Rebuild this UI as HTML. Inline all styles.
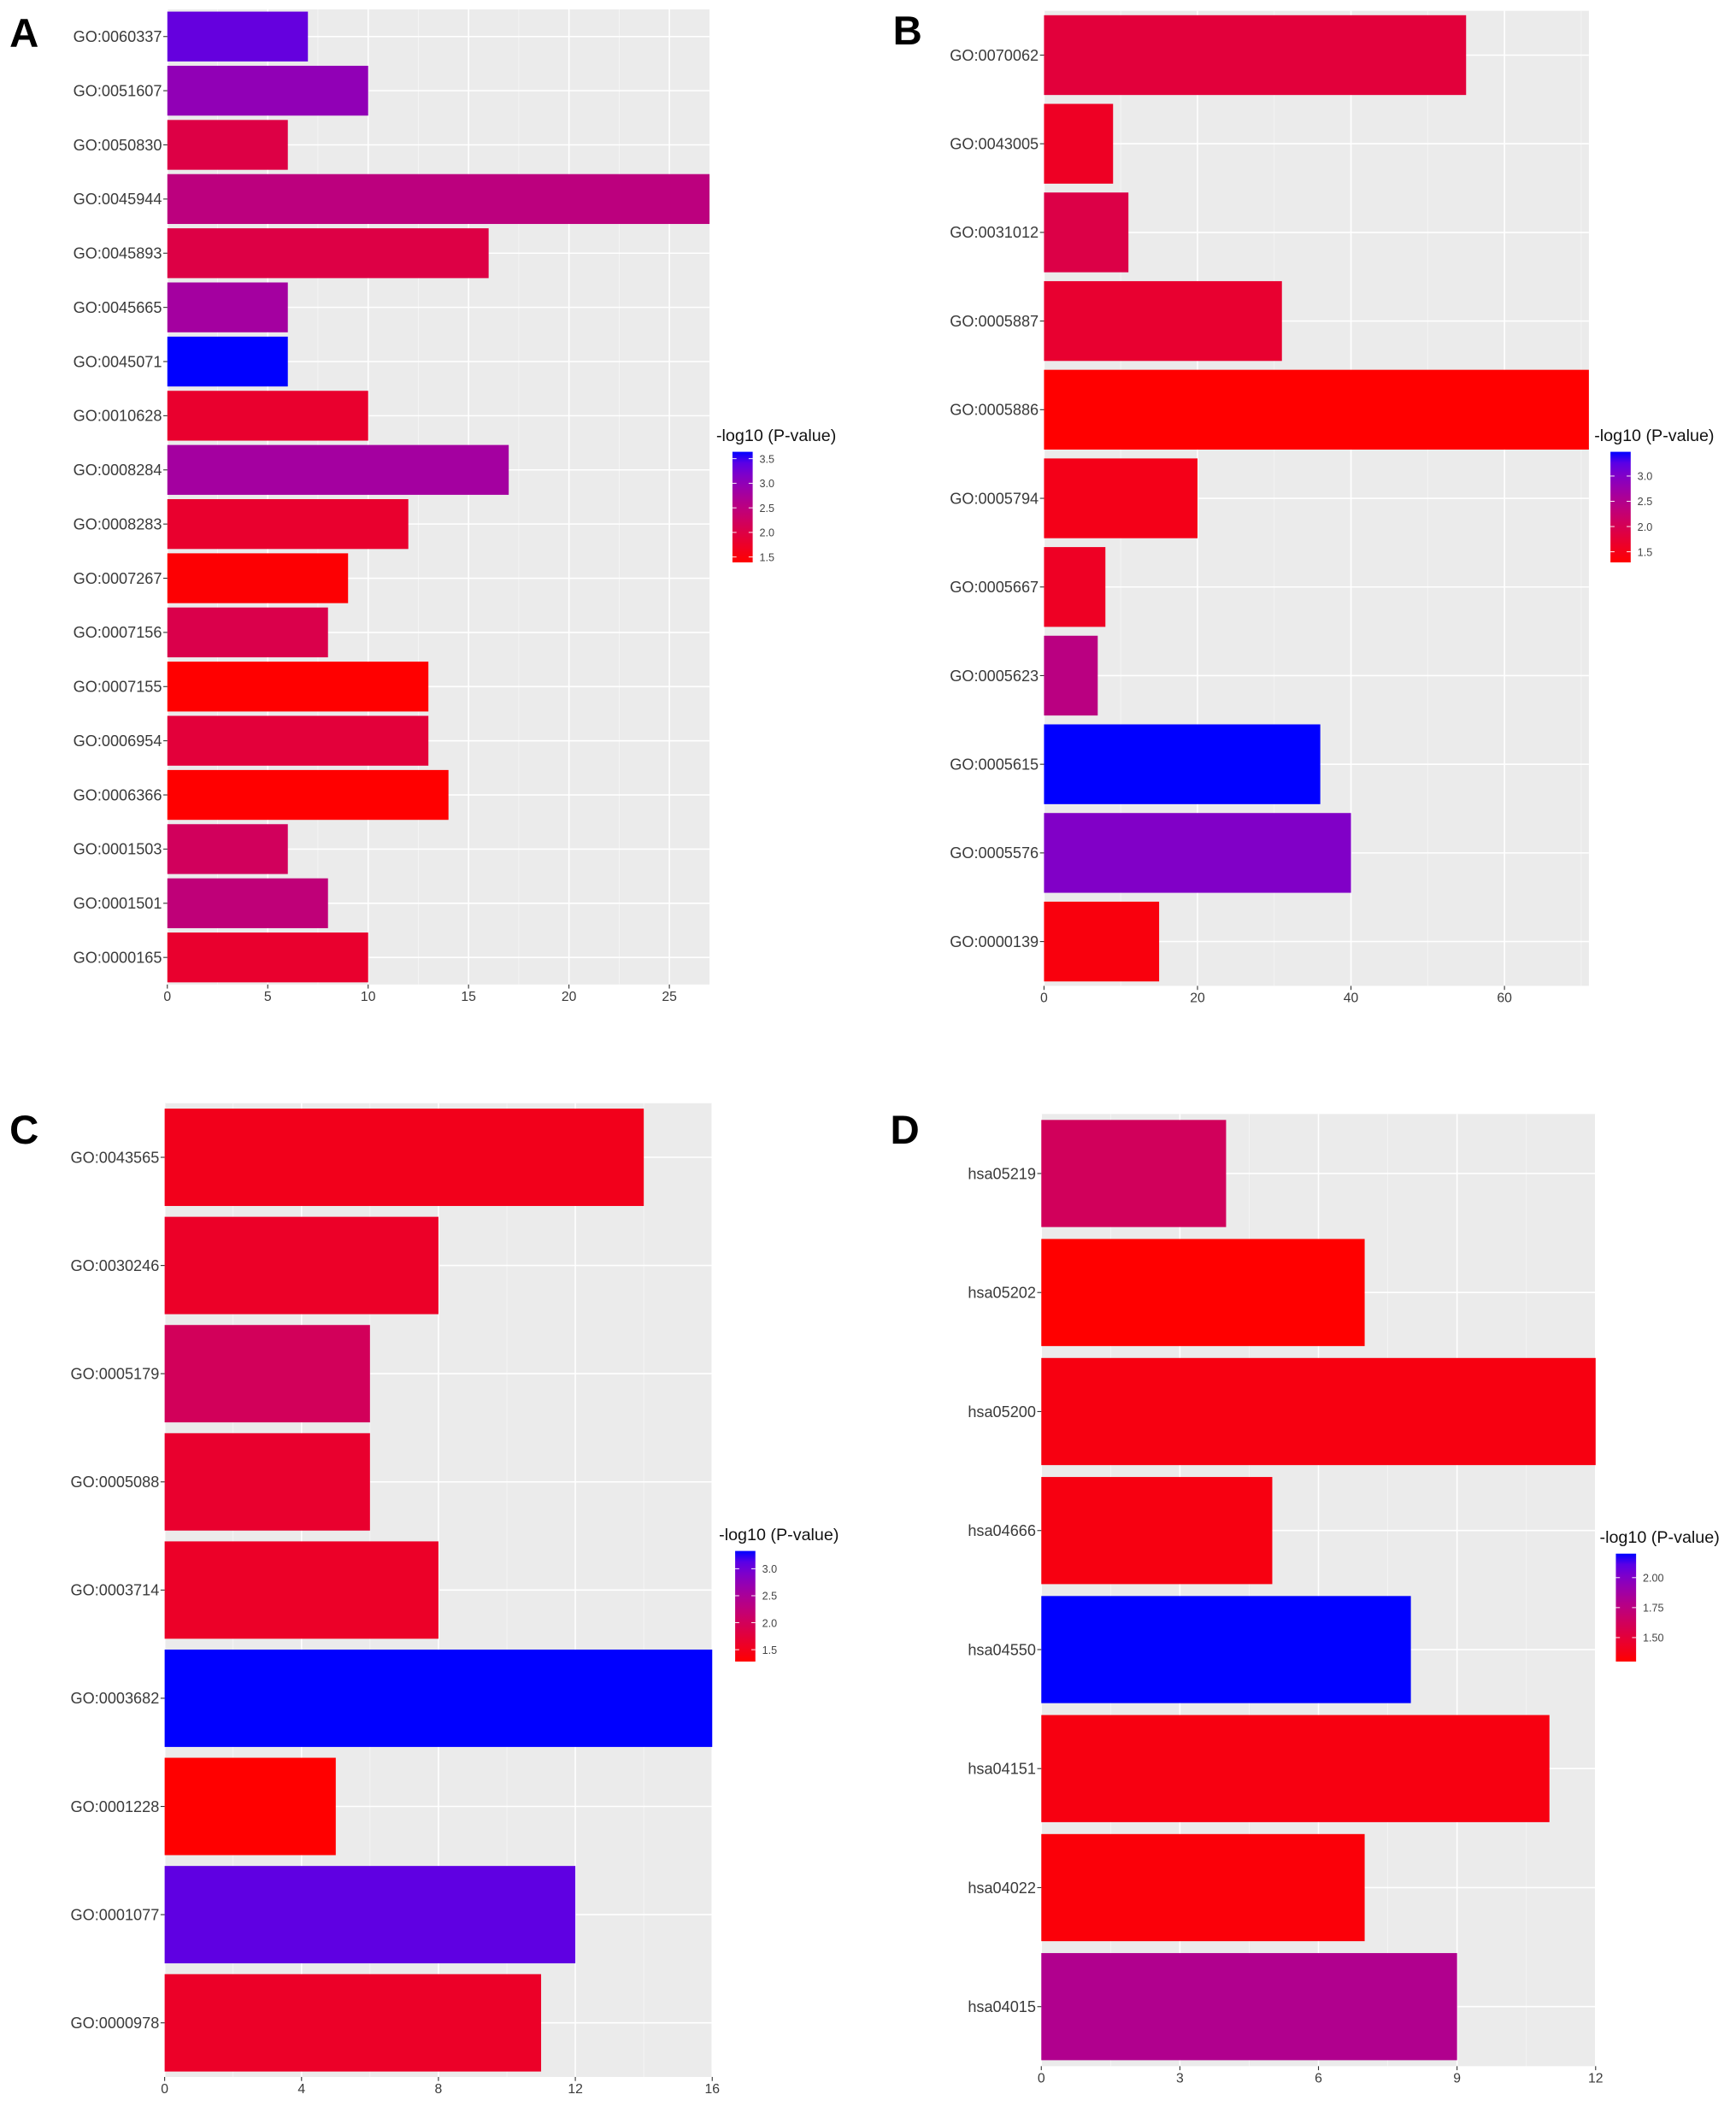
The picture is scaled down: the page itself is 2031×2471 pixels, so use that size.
<!DOCTYPE html>
<html><head><meta charset="utf-8"><style>
html,body{margin:0;padding:0;background:#fff;}
svg{display:block;}
text{font-family:"Liberation Sans",sans-serif;}
</style></head><body>
<svg id="fig" width="2031" height="2471" viewBox="0 0 1287 1566" xmlns="http://www.w3.org/2000/svg"></svg>
<script>
// Panel A data
const aCats=["GO:0060337","GO:0051607","GO:0050830","GO:0045944","GO:0045893","GO:0045665","GO:0045071","GO:0010628","GO:0008284","GO:0008283","GO:0007267","GO:0007156","GO:0007155","GO:0006954","GO:0006366","GO:0001503","GO:0001501","GO:0000165"];
const aVals=[7,10,6,27,16,6,6,10,17,12,9,8,13,13,14,6,8,10];
const aP=[3.35,3.0,2.0,2.5,2.0,2.8,3.64,1.8,2.8,1.8,1.42,2.05,1.39,1.9,1.39,2.2,2.45,1.8];
const aTicks=[0,5,10,15,20,25];
const aLegTicks=[1.5,2.0,2.5,3.0,3.5];
const aLegTickLabels=["1.5","2.0","2.5","3.0","3.5"];
// Panel B data
const bCats=["GO:0070062","GO:0043005","GO:0031012","GO:0005887","GO:0005886","GO:0005794","GO:0005667","GO:0005623","GO:0005615","GO:0005576","GO:0000139"];
const bVals=[55,9,11,31,71,20,8,7,36,40,15];
const bP=[1.8,1.6,1.9,1.7,1.29,1.5,1.6,2.4,3.48,3.0,1.4];
const bTicks=[0,20,40,60];
const bLegTicks=[1.5,2.0,2.5,3.0];
const bLegTickLabels=["1.5","2.0","2.5","3.0"];
// Panel C data
const cCats=["GO:0043565","GO:0030246","GO:0005179","GO:0005088","GO:0003714","GO:0003682","GO:0001228","GO:0001077","GO:0000978"];
const cVals=[14,8,6,6,8,16,5,12,11];
const cP=[1.5,1.6,2.0,1.65,1.6,3.33,1.28,3.1,1.6];
const cTicks=[0,4,8,12,16];
const cLegTicks=[1.5,2.0,2.5,3.0];
const cLegTickLabels=["1.5","2.0","2.5","3.0"];
// Panel D data
const dCats=["hsa05219","hsa05202","hsa05200","hsa04666","hsa04550","hsa04151","hsa04022","hsa04015"];
const dVals=[4,7,12,5,8,11,7,9];
const dP=[1.62,1.3,1.36,1.36,2.2,1.36,1.33,1.8];
const dTicks=[0,3,6,9,12];
const dLegTicks=[1.5,1.75,2.0];
const dLegTickLabels=["1.50","1.75","2.00"];

const NS="http://www.w3.org/2000/svg";
const svg=document.getElementById('fig');
function mk(tag,attrs,parent){const e=document.createElementNS(NS,tag);for(const k in attrs)e.setAttribute(k,attrs[k]);(parent||svg).appendChild(e);return e;}
function col(t){t=Math.max(0,Math.min(1,t));const r=Math.round(255*Math.pow(1-t,0.45));const b=Math.round(255*Math.pow(t,1.0));return `rgb(${r},0,${b})`;}

function panel(o){
  const g=mk('g',{});
  
  
  const L=o.left,R=o.right,T=o.top,B=o.bottom;
  const xs=v=>L+(v-0)/o.xmax*(R-L);
  const bg=mk('rect',{x:L,y:T,width:R-L,height:B-T,fill:'#ebebeb'},g);
  
  
  for(let i=0;i<o.ticks.length;i++){
    const step=o.ticks[1]-o.ticks[0];const mv=o.ticks[i]+step/2;
    if(mv<o.xmax) mk('line',{x1:xs(mv),x2:xs(mv),y1:T,y2:B,stroke:'#f6f6f6','stroke-width':0.5},g);
  }
  o.ticks.forEach(v=>{
    const gl=mk('line',{x1:xs(v),x2:xs(v),y1:T,y2:B,stroke:'#ffffff','stroke-width':1},g);
    
    
  });
  const n=o.cats.length;const step=(B-T)/n;const bh=step*o.bw;
  o.cats.forEach((c,i)=>{
    const cy=T+step*(i+0.5);
    mk('line',{x1:L,x2:R,y1:cy,y2:cy,stroke:'#ffffff','stroke-width':1},g);
  });
  o.cats.forEach((c,i)=>{
    const cy=T+step*(i+0.5);
    const t=(o.p[i]-o.pmin)/(o.pmax-o.pmin);
    const r=mk('rect',{x:L,y:cy-bh/2,width:xs(o.vals[i])-L,height:bh,fill:col(t)},g);
    
    
    mk('line',{x1:L-3,x2:L,y1:cy,y2:cy,stroke:'#333','stroke-width':0.7},g);
    const tx=mk('text',{x:L-4,y:cy+4,'font-size':o.yfs,'text-anchor':'end',fill:'#3a3a3a'},g);
    tx.textContent=c;
    
    
  });
  o.ticks.forEach(v=>{
    mk('line',{x1:xs(v),x2:xs(v),y1:B,y2:B+3,stroke:'#333','stroke-width':0.7},g);
    const tx=mk('text',{x:xs(v),y:B+12,'font-size':10,'text-anchor':'middle',fill:'#3a3a3a'},g);
    tx.textContent=v;
    
    
  });
  const lt=mk('text',{x:o.lx,y:o.ly,'font-size':30,'font-weight':'bold',fill:'#000'},g);
  lt.textContent=o.letter;
  
  
  const lg=o.leg;
  const tt=mk('text',{x:lg.x-12,y:lg.ty,'font-size':12.5,fill:'#111'},g);
  tt.textContent='-log10 (P-value)';
  
  
  const gid='grad'+o.letter;
  const defs=mk('defs',{},g);
  const lgr=mk('linearGradient',{id:gid,x1:0,y1:1,x2:0,y2:0},defs);
  for(let k=0;k<=10;k++) mk('stop',{offset:k/10,'stop-color':col(k/10)},lgr);
  const cb=mk('rect',{x:lg.x,y:lg.top,width:15,height:lg.bot-lg.top,fill:`url(#${gid})`},g);
  
  
  const ys=p=>lg.bot-(p-o.pmin)/(o.pmax-o.pmin)*(lg.bot-lg.top);
  o.legTicks.forEach((p,k)=>{
    const y=ys(p);
    mk('line',{x1:lg.x,x2:lg.x+3,y1:y,y2:y,stroke:'#fff','stroke-width':0.6},g);
    mk('line',{x1:lg.x+12,x2:lg.x+15,y1:y,y2:y,stroke:'#fff','stroke-width':0.6},g);
    const tx=mk('text',{x:lg.x+20,y:y+3,'font-size':8,fill:'#444'},g);
    tx.textContent=o.legLabels[k];
    
    
  });
}

panel({name:'panel-a',letter:'A',lx:7,ly:35,left:124,right:526,top:7,bottom:730,xmax:27,ticks:aTicks,cats:aCats,vals:aVals,p:aP,pmin:1.39,pmax:3.64,bw:0.92,yfs:11.5,legTicks:aLegTicks,legLabels:aLegTickLabels,leg:{x:543,ty:327,top:335,bot:417}});
panel({name:'panel-b',letter:'B',lx:662,ly:33,left:774,right:1178,top:8,bottom:731,xmax:71,ticks:bTicks,cats:bCats,vals:bVals,p:bP,pmin:1.29,pmax:3.48,bw:0.9,yfs:11.5,legTicks:bLegTicks,legLabels:bLegTickLabels,leg:{x:1194,ty:327,top:335,bot:417}});
panel({name:'panel-c',letter:'C',lx:7,ly:848,left:122,right:528,top:818,bottom:1540,xmax:16,ticks:cTicks,cats:cCats,vals:cVals,p:cP,pmin:1.28,pmax:3.33,bw:0.9,yfs:11.5,legTicks:cLegTicks,legLabels:cLegTickLabels,leg:{x:545,ty:1142,top:1150,bot:1232}});
panel({name:'panel-d',letter:'D',lx:660,ly:848,left:772,right:1183,top:826,bottom:1532,xmax:12,ticks:dTicks,cats:dCats,vals:dVals,p:dP,pmin:1.3,pmax:2.2,bw:0.9,yfs:11.5,legTicks:dLegTicks,legLabels:dLegTickLabels,leg:{x:1198,ty:1144,top:1152,bot:1232}});
</script>
</body></html>
